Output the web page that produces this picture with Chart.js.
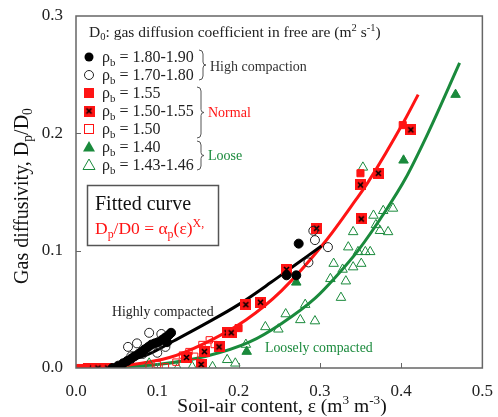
<!DOCTYPE html>
<html>
<head>
<meta charset="utf-8">
<script src="https://cdn.jsdelivr.net/npm/chart.js@4.4.0/dist/chart.umd.min.js"></script>
<style>
  body { margin: 0; background: #fff; }
  canvas { display: block; }
</style>
</head>
<body>
<canvas id="graph" width="498" height="417"></canvas>
<script>
// data, [soil-air content, Dp/D0]
const xTicks = [0, 0.1, 0.2, 0.3, 0.4, 0.5];
const yTicks = [0, 0.1, 0.2, 0.3];

const high180 = [[0.045,0.000],[0.052,0.002],[0.058,0.004],[0.063,0.006],[0.068,0.008],[0.072,0.010],[0.077,0.012],[0.081,0.014],[0.085,0.016],[0.089,0.018],[0.093,0.020],[0.097,0.021],[0.101,0.022],[0.106,0.024],[0.110,0.026],[0.114,0.028],[0.117,0.030],[0.112,0.022],[0.259,0.079],[0.271,0.079],[0.274,0.106]];
const high170 = [[0.064,0.018],[0.075,0.021],[0.082,0.012],[0.090,0.030],[0.100,0.013],[0.105,0.029],[0.110,0.018],[0.068,0.010],[0.286,0.090],[0.292,0.117],[0.294,0.109],[0.310,0.103]];
const normal155 = [[0.005,0.000],[0.012,0.000],[0.200,0.034],[0.350,0.166],[0.402,0.207]];
const normal150155 = [[0.015,0.000],[0.027,0.000],[0.039,0.000],[0.136,0.009],[0.154,0.003],[0.158,0.014],[0.176,0.018],[0.186,0.030],[0.191,0.030],[0.209,0.054],[0.227,0.056],[0.259,0.084],[0.296,0.119],[0.351,0.127],[0.350,0.156],[0.372,0.166],[0.412,0.203]];
const normal150 = [[0.090,0.001],[0.100,0.003],[0.110,0.001],[0.123,0.005],[0.131,0.011],[0.139,0.014],[0.146,0.010],[0.155,0.020],[0.164,0.024],[0.170,0.020]];
const loose140 = [[0.210,0.014],[0.271,0.073],[0.403,0.177],[0.467,0.233]];
const loose143 = [[0.090,0.004],[0.125,0.000],[0.143,0.001],[0.168,0.001],[0.186,0.007],[0.196,0.004],[0.209,0.020],[0.233,0.035],[0.249,0.033],[0.258,0.046],[0.276,0.041],[0.282,0.054],[0.294,0.040],[0.313,0.076],[0.317,0.089],[0.326,0.060],[0.328,0.084],[0.332,0.074],[0.335,0.103],[0.341,0.116],[0.341,0.086],[0.347,0.099],[0.351,0.089],[0.353,0.171],[0.356,0.099],[0.362,0.099],[0.366,0.130],[0.369,0.122],[0.374,0.117],[0.378,0.134],[0.384,0.116],[0.390,0.136]];

// fitted curves, points
const fitHigh = [[0.035,0.000],[0.060,0.005],[0.090,0.012],[0.120,0.023],[0.160,0.038],[0.200,0.054],[0.240,0.073],[0.270,0.088],[0.302,0.104]];
const fitNormal = [[0.040,0.000],[0.115,0.009],[0.155,0.020],[0.209,0.041],[0.253,0.066],[0.307,0.108],[0.344,0.143],[0.359,0.158],[0.405,0.212],[0.421,0.233]];
const fitLoose = [[0.000,0.000],[0.100,0.003],[0.160,0.010],[0.213,0.022],[0.253,0.038],[0.295,0.060],[0.320,0.078],[0.347,0.100],[0.381,0.134],[0.405,0.161],[0.433,0.200],[0.472,0.260]];

const RED = "#ff1414";
const GREEN = "#1a8a3c";
const SERIF = '"Liberation Serif", "Times New Roman", serif';

const toXY = (arr) => arr.map((p) => ({ x: p[0], y: p[1] }));

// red square with a black cross
function crossSquare() {
  const c = document.createElement("canvas");
  c.width = 11;
  c.height = 11;
  const g = c.getContext("2d");
  g.fillStyle = RED;
  g.fillRect(0, 0, 11, 11);
  g.strokeStyle = "#000";
  g.lineWidth = 1.6;
  g.beginPath();
  g.moveTo(3, 3); g.lineTo(8, 8);
  g.moveTo(8, 3); g.lineTo(3, 8);
  g.stroke();
  return c;
}
const crossImg = crossSquare();

function scatterSet(arr, style, bg, border, r) {
  return {
    type: "scatter",
    data: toXY(arr),
    pointStyle: style,
    pointRadius: r,
    pointBackgroundColor: bg,
    pointBorderColor: border,
    pointBorderWidth: 1,
    showLine: false,
  };
}
function lineSet(arr, color) {
  return {
    type: "line",
    data: toXY(arr),
    borderColor: color,
    borderWidth: 3,
    pointRadius: 0,
    fill: false,
    cubicInterpolationMode: "monotone",
  };
}

// draws a run of text with sub/superscripts
function rich(ctx, x, y, parts, size) {
  let cx = x;
  parts.forEach(([t, m]) => {
    const s = m ? size * 0.68 : size;
    ctx.font = s + "px " + SERIF;
    let dy = 0;
    if (m === "sub") dy = size * 0.22;
    if (m === "sup") dy = -size * 0.4;
    ctx.fillText(t, cx, y + dy);
    cx += ctx.measureText(t).width;
  });
  return cx - x;
}
function richWidth(ctx, parts, size) {
  let w = 0;
  parts.forEach(([t, m]) => {
    ctx.font = (m ? size * 0.68 : size) + "px " + SERIF;
    w += ctx.measureText(t).width;
  });
  return w;
}

function marker(ctx, kind, x, y) {
  ctx.save();
  ctx.lineWidth = 1;
  if (kind === "dot" || kind === "ring") {
    ctx.beginPath();
    ctx.arc(x, y, 4.5, 0, Math.PI * 2);
    if (kind === "dot") { ctx.fillStyle = "#000"; ctx.fill(); }
    else { ctx.strokeStyle = "#222"; ctx.stroke(); }
  } else if (kind === "sq") {
    ctx.fillStyle = RED; ctx.fillRect(x - 5, y - 5, 10, 10);
  } else if (kind === "xsq") {
    ctx.drawImage(crossImg, x - 5.5, y - 5.5);
  } else if (kind === "osq") {
    ctx.strokeStyle = RED; ctx.strokeRect(x - 4.5, y - 4.5, 9, 9);
  } else {
    ctx.beginPath();
    ctx.moveTo(x, y - 6); ctx.lineTo(x + 6, y + 4.5); ctx.lineTo(x - 6, y + 4.5); ctx.closePath();
    if (kind === "tri") { ctx.fillStyle = GREEN; ctx.fill(); }
    else { ctx.strokeStyle = GREEN; ctx.stroke(); }
  }
  ctx.restore();
}

function brace(ctx, x, top, bottom) {
  const mid = (top + bottom) / 2;
  ctx.save();
  ctx.strokeStyle = "#555";
  ctx.lineWidth = 1;
  ctx.beginPath();
  ctx.moveTo(x, top);
  ctx.quadraticCurveTo(x + 4, top, x + 4, top + 4);
  ctx.lineTo(x + 4, mid - 3);
  ctx.quadraticCurveTo(x + 4, mid, x + 7, mid);
  ctx.quadraticCurveTo(x + 4, mid, x + 4, mid + 3);
  ctx.lineTo(x + 4, bottom - 4);
  ctx.quadraticCurveTo(x + 4, bottom, x, bottom);
  ctx.stroke();
  ctx.restore();
}

const legendRows = [
  ["dot", " = 1.80-1.90"],
  ["ring", " = 1.70-1.80"],
  ["sq", " = 1.55"],
  ["xsq", " = 1.50-1.55"],
  ["osq", " = 1.50"],
  ["tri", " = 1.40"],
  ["otri", " = 1.43-1.46"],
];

const decorPlugin = {
  id: "decor",
  afterDraw(chart) {
    const ctx = chart.ctx;
    const a = chart.chartArea;
    const xs = chart.scales.x;
    const ys = chart.scales.y;
    ctx.save();

    // frame and inward ticks
    ctx.strokeStyle = "#666";
    ctx.lineWidth = 1.5;
    ctx.strokeRect(a.left, a.top, a.right - a.left, a.bottom - a.top);
    ctx.lineWidth = 1;
    ctx.beginPath();
    xTicks.slice(1, -1).forEach((v) => {
      const px = Math.round(xs.getPixelForValue(v)) + 0.5;
      ctx.moveTo(px, a.bottom); ctx.lineTo(px, a.bottom - 5);
    });
    yTicks.slice(1, -1).forEach((v) => {
      const py = Math.round(ys.getPixelForValue(v)) + 0.5;
      ctx.moveTo(a.left, py); ctx.lineTo(a.left + 5, py);
    });
    ctx.stroke();

    ctx.textBaseline = "alphabetic";
    ctx.fillStyle = "#222";
    rich(ctx, 89, 37, [["D"], ["0", "sub"], [": gas diffusion coefficient in free are (m"], ["2", "sup"], [" s"], ["-1", "sup"], [")"]], 15.5);

    legendRows.forEach((row, i) => {
      const cy = 57 + 18 * i;
      marker(ctx, row[0], 89, cy);
      ctx.fillStyle = "#222";
      rich(ctx, 102, cy + 5, [["ρ"], ["b", "sub"], [row[1]]], 16);
    });

    brace(ctx, 199, 50, 80);
    brace(ctx, 197, 87, 138);
    brace(ctx, 197, 141, 170);
    ctx.font = "14px " + SERIF;
    ctx.fillStyle = "#333";
    ctx.fillText("High compaction", 210, 71);
    ctx.fillStyle = RED;
    ctx.fillText("Normal", 208, 117);
    ctx.fillStyle = GREEN;
    ctx.fillText("Loose", 208, 160);

    // fitted curve box
    ctx.strokeStyle = "#555";
    ctx.lineWidth = 1.5;
    ctx.strokeRect(87.5, 185.5, 131, 60);
    ctx.fillStyle = "#111";
    ctx.font = "20px " + SERIF;
    ctx.fillText("Fitted curve", 95, 210);
    ctx.fillStyle = RED;
    const w = rich(ctx, 95, 234, [["D"], ["p", "sub"], ["/D0 = α"], ["p", "sub"], ["(ε)"]], 17.5);
    rich(ctx, 95 + w, 234, [["X", "sup"], [",", "sup"]], 17.5);

    // annotations
    ctx.font = "13.8px " + SERIF;
    ctx.fillStyle = "#222";
    ctx.fillText("Highly compacted", 112, 316);
    ctx.fillStyle = GREEN;
    ctx.fillText("Loosely compacted", 265, 352);

    // axis titles
    ctx.fillStyle = "#111";
    const xt = [["Soil-air content, ε (m"], ["3", "sup"], [" m"], ["-3", "sup"], [")"]];
    rich(ctx, 282 - richWidth(ctx, xt, 19.5) / 2, 412, xt, 19.5);
    const yt = [["Gas diffusivity, D"], ["p", "sub"], ["/D"], ["0", "sub"]];
    ctx.translate(28, 196);
    ctx.rotate(-Math.PI / 2);
    rich(ctx, -richWidth(ctx, yt, 20) / 2, 0, yt, 20);
    ctx.restore();
  },
};

const tickFont = { family: "Liberation Serif", size: 17 };

new Chart(document.getElementById("graph").getContext("2d"), {
  type: "scatter",
  data: {
    datasets: [
      scatterSet(high180, "circle", "#000", "#000", 4.5),
      scatterSet(high170, "circle", "rgba(0,0,0,0)", "#222", 4.5),
      scatterSet(normal155, "rect", RED, RED, 5),
      scatterSet(normal150155, crossImg, RED, RED, 5),
      scatterSet(normal150, "rect", "rgba(0,0,0,0)", RED, 4.5),
      scatterSet(loose140, "triangle", GREEN, GREEN, 5.5),
      scatterSet(loose143, "triangle", "rgba(0,0,0,0)", GREEN, 5.5),
      lineSet(fitHigh, "#000"),
      lineSet(fitNormal, RED),
      lineSet(fitLoose, GREEN),
    ],
  },
  options: {
    responsive: false,
    animation: false,
    layout: { padding: { top: 16, right: 13, left: 0, bottom: 0 } },
    plugins: { legend: { display: false }, tooltip: { enabled: false } },
    scales: {
      x: {
        type: "linear",
        min: 0,
        max: 0.5,
        afterFit(s) { s.height = 49; },
        afterBuildTicks(s) { s.ticks = xTicks.map((v) => ({ value: v })); },
        ticks: { callback: (v) => v.toFixed(1), font: tickFont, color: "#222", padding: 5, maxRotation: 0 },
        grid: { display: false },
        border: { display: false },
      },
      y: {
        type: "linear",
        min: 0,
        max: 0.3,
        afterFit(s) { s.width = 76; },
        afterBuildTicks(s) { s.ticks = yTicks.map((v) => ({ value: v })); },
        ticks: { callback: (v) => v.toFixed(1), font: tickFont, color: "#222", padding: 5 },
        grid: { display: false },
        border: { display: false },
      },
    },
  },
  plugins: [decorPlugin],
});
</script>
</body>
</html>
